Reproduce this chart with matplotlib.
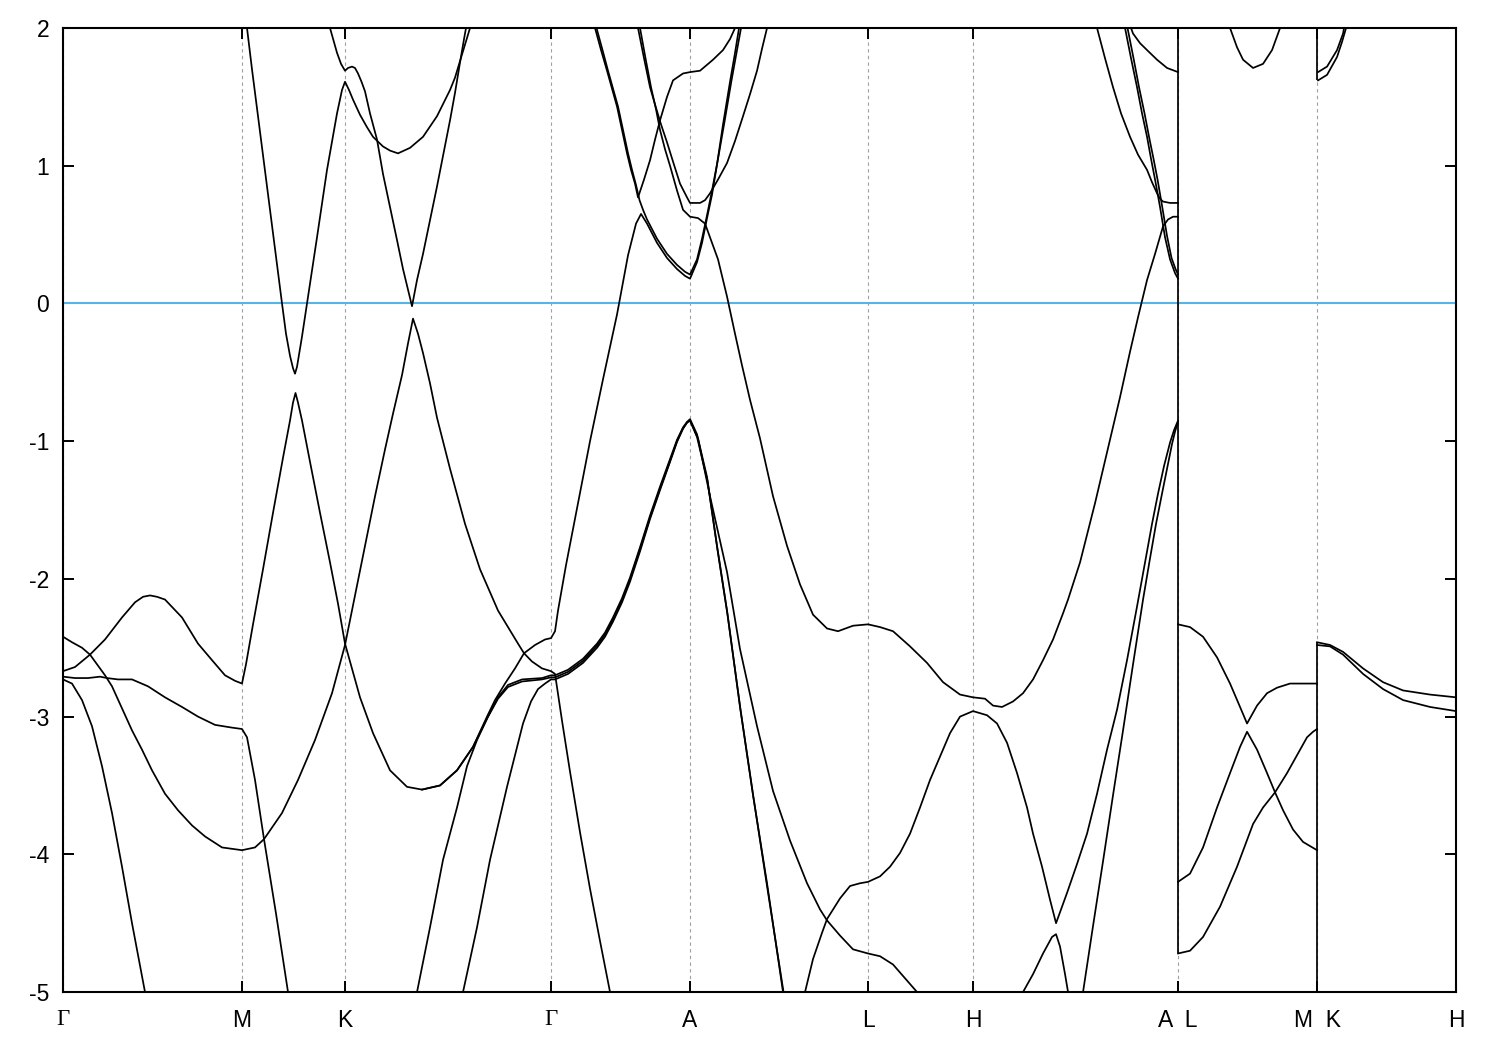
import matplotlib
matplotlib.use("Agg")
import matplotlib.pyplot as plt

plt.rcParams['font.family'] = ['Liberation Sans', 'DejaVu Sans']
plt.rcParams['axes.unicode_minus'] = False

# ---------------- data ----------------
tick_pos = [0.000, 0.179, 0.282, 0.488, 0.627, 0.805, 0.910, 1.115, 1.254, 1.393]
tick_lab = ["Γ", "M", "K", "Γ", "A", "L", "H", "A  L", "M  K", "H"]
e_ticks = [-5, -4, -3, -2, -1, 0, 1, 2]
e_fermi = 0.0

band_P = [(0.000,-2.67),(0.012,-2.64),(0.027,-2.55),(0.042,-2.44),(0.059,-2.28),(0.072,-2.17),(0.080,-2.13),
          (0.087,-2.12),(0.094,-2.13),
          (0.102,-2.15),(0.119,-2.28),(0.135,-2.47),(0.149,-2.59),(0.162,-2.70),(0.172,-2.74),(0.179,-2.76),
          (0.183,-2.62),(0.190,-2.33),(0.200,-1.93),(0.210,-1.52),(0.220,-1.12),(0.227,-0.85),(0.230,-0.72),
          (0.2325,-0.65),(0.235,-0.72),(0.239,-0.85),(0.247,-1.15),(0.257,-1.52),(0.267,-1.88),(0.275,-2.18),
          (0.282,-2.47),(0.297,-2.86),(0.310,-3.12),(0.327,-3.39),(0.344,-3.51),(0.359,-3.53),(0.377,-3.50),
          (0.394,-3.39),(0.410,-3.22),(0.424,-3.00),(0.432,-2.88),(0.442,-2.76),(0.452,-2.65),(0.461,-2.54),
          (0.472,-2.48),(0.482,-2.44),(0.488,-2.43),(0.492,-2.38),(0.495,-2.23),(0.503,-1.90),(0.515,-1.45),
          (0.527,-1.00),(0.540,-0.55),(0.554,-0.08),(0.565,0.35),(0.573,0.58),(0.578,0.65),(0.584,0.58),
          (0.594,0.44),(0.604,0.33),(0.614,0.25),(0.622,0.20),(0.627,0.18),(0.634,0.30),(0.639,0.44),
          (0.644,0.62),(0.649,0.79),(0.654,1.01),(0.660,1.30),(0.667,1.61),(0.672,1.82),(0.676,2.00)]

band_C0 = [(0.000,-2.42),(0.009,-2.46),(0.019,-2.50),(0.027,-2.55),(0.035,-2.63),(0.042,-2.70),(0.049,-2.78),
           (0.059,-2.94),(0.069,-3.10),(0.079,-3.24),(0.089,-3.39),(0.102,-3.56),(0.115,-3.68),(0.129,-3.79),
           (0.142,-3.87),(0.159,-3.95),(0.179,-3.97),(0.192,-3.95),(0.201,-3.89),(0.219,-3.70),(0.235,-3.46),
           (0.252,-3.17),(0.269,-2.83),(0.282,-2.48),(0.292,-2.12),(0.302,-1.76),(0.312,-1.40),(0.322,-1.06),
           (0.330,-0.80),(0.339,-0.52),(0.345,-0.29),(0.350,-0.11),(0.355,-0.22),(0.360,-0.36),(0.367,-0.58),
           (0.374,-0.83),(0.387,-1.20),(0.402,-1.60),(0.417,-1.93),(0.435,-2.23),(0.445,-2.35),(0.455,-2.47),
           (0.461,-2.54),(0.469,-2.60),(0.479,-2.65),(0.488,-2.67),(0.492,-2.69),(0.499,-3.03),(0.507,-3.40),
           (0.517,-3.84),(0.527,-4.25),(0.537,-4.63),(0.547,-5.00)]

band_D1 = [(0.000,-2.71),(0.012,-2.72),(0.025,-2.72),(0.037,-2.71),(0.044,-2.72),(0.055,-2.73),(0.069,-2.73),
           (0.085,-2.78),(0.102,-2.86),(0.119,-2.93),(0.135,-3.00),(0.152,-3.06),(0.169,-3.08),(0.179,-3.09),
           (0.184,-3.15),(0.192,-3.46),(0.201,-3.89),(0.213,-4.43),(0.225,-5.00)]

band_D2 = [(0.000,-2.73),(0.009,-2.76),(0.019,-2.88),(0.029,-3.07),(0.039,-3.36),(0.049,-3.70),(0.059,-4.09),
           (0.069,-4.50),(0.082,-5.00)]

band_X1 = [(0.184,2.00),(0.189,1.70),(0.195,1.36),(0.201,1.02),(0.207,0.68),(0.213,0.34),(0.219,0.00),
           (0.223,-0.22),(0.227,-0.38),(0.230,-0.47),(0.232,-0.51),(0.234,-0.46),(0.239,-0.24),(0.244,0.00),
           (0.254,0.48),(0.264,0.97),(0.274,1.38),(0.279,1.55),(0.282,1.61),(0.286,1.55),(0.290,1.48),
           (0.297,1.37),(0.304,1.28),(0.310,1.21),(0.320,1.14),(0.327,1.11),(0.335,1.09),(0.347,1.13),
           (0.360,1.21),(0.374,1.36),(0.387,1.55),(0.392,1.64),(0.397,1.76),(0.402,1.88),(0.407,2.00)]

band_W1 = [(0.267,2.00),(0.274,1.82),(0.278,1.74),(0.282,1.69),(0.285,1.71),(0.289,1.72),(0.292,1.71),
           (0.295,1.67),(0.2985,1.61),(0.302,1.54),(0.307,1.38),(0.314,1.19),(0.320,0.94),(0.327,0.70),
           (0.334,0.46),(0.340,0.25),(0.345,0.10),(0.349,-0.02),(0.354,0.17),(0.360,0.36),(0.374,0.85),
           (0.387,1.33),(0.392,1.53),(0.397,1.75),(0.401,1.92),(0.403,2.00)]

band_G1 = [(0.354,-5.00),(0.367,-4.53),(0.380,-4.04),(0.394,-3.66),(0.404,-3.36),(0.414,-3.17),(0.425,-3.00),
           (0.435,-2.86),(0.445,-2.77),(0.459,-2.73),(0.479,-2.72),(0.488,-2.70),(0.492,-2.70),(0.505,-2.66),
           (0.520,-2.58),(0.534,-2.47),(0.542,-2.39),(0.550,-2.28),(0.559,-2.14),(0.567,-1.99),(0.577,-1.77),
           (0.587,-1.54),(0.597,-1.33),(0.607,-1.13),(0.614,-0.99),(0.620,-0.90),(0.624,-0.86),(0.627,-0.84),
           (0.634,-0.95),(0.644,-1.26),(0.654,-1.76),(0.664,-2.23),(0.677,-2.93),(0.690,-3.57),(0.704,-4.21),
           (0.720,-5.00)]

band_P2 = [(0.359,-3.53),(0.377,-3.50),(0.394,-3.39),(0.410,-3.22),(0.425,-3.00),(0.435,-2.87),(0.445,-2.785),
           (0.459,-2.745),(0.479,-2.73),(0.488,-2.715),(0.492,-2.715),(0.505,-2.675),(0.520,-2.595),
           (0.534,-2.485),(0.542,-2.405),(0.550,-2.295),(0.559,-2.155),(0.567,-2.005),(0.577,-1.785),
           (0.587,-1.555),(0.597,-1.345),(0.607,-1.145),(0.614,-1.00),(0.620,-0.905),(0.624,-0.865),
           (0.627,-0.85),(0.634,-0.97),(0.6445,-1.29),(0.6545,-1.79),(0.6645,-2.26),(0.6775,-2.95),
           (0.6905,-3.59),(0.704,-4.23),(0.7205,-5.00)]

band_G2 = [(0.400,-5.00),(0.414,-4.53),(0.427,-4.04),(0.444,-3.51),(0.460,-3.05),(0.468,-2.89),(0.475,-2.80),
           (0.482,-2.76),(0.488,-2.73),(0.492,-2.73),(0.505,-2.69),(0.520,-2.61),(0.534,-2.50),(0.542,-2.42),
           (0.550,-2.31),(0.559,-2.17),(0.567,-2.02),(0.577,-1.80),(0.587,-1.565),(0.597,-1.355),(0.607,-1.15),
           (0.614,-1.005),(0.620,-0.91),(0.624,-0.865),(0.627,-0.85),(0.635,-0.98),(0.647,-1.40),(0.664,-1.95),
           (0.677,-2.51),(0.694,-3.07),(0.710,-3.54),(0.727,-3.90),(0.744,-4.21),(0.757,-4.40),(0.764,-4.48),
           (0.777,-4.59),(0.790,-4.69),(0.805,-4.72),(0.817,-4.74),(0.830,-4.80),(0.842,-4.90),(0.854,-5.00)]

band_Y1 = [(0.742,-5.00),(0.750,-4.76),(0.759,-4.57),(0.764,-4.47),(0.777,-4.32),(0.787,-4.23),(0.797,-4.21),
           (0.805,-4.20),(0.817,-4.16),(0.827,-4.09),(0.837,-3.99),(0.847,-3.85),(0.857,-3.66),(0.867,-3.46),
           (0.877,-3.29),(0.887,-3.12),(0.897,-3.00),(0.910,-2.96),(0.924,-2.99),(0.934,-3.05),(0.944,-3.19),
           (0.954,-3.41),(0.964,-3.66),(0.970,-3.85),(0.979,-4.09),(0.987,-4.33),(0.993,-4.50),(1.004,-4.28),
           (1.014,-4.07),(1.024,-3.85),(1.034,-3.56),(1.044,-3.24),(1.054,-2.95),(1.064,-2.59),(1.074,-2.20),
           (1.082,-1.88),(1.089,-1.60),(1.095,-1.38),(1.101,-1.18),(1.107,-1.01),(1.111,-0.92),(1.115,-0.85)]

band_Y2 = [(0.960,-5.00),(0.970,-4.87),(0.980,-4.72),(0.989,-4.60),(0.993,-4.58),(0.997,-4.67),(1.002,-4.87),
           (1.005,-5.00)]

band_H1 = [(1.020,-5.00),(1.030,-4.52),(1.040,-4.05),(1.050,-3.57),(1.060,-3.10),(1.070,-2.62),(1.080,-2.15),
           (1.087,-1.85),(1.093,-1.60),(1.099,-1.38),(1.104,-1.20),(1.109,-1.02),(1.112,-0.93),(1.115,-0.86)]

band_Q1 = [(0.5335,2.00),(0.5395,1.84),(0.545,1.69),(0.550,1.56),(0.555,1.43),(0.560,1.26),(0.565,1.09),
           (0.569,0.97),(0.573,0.86),(0.5765,0.75),(0.580,0.68),(0.584,0.61),(0.594,0.47),(0.604,0.36),
           (0.614,0.28),(0.622,0.23),(0.627,0.21),(0.634,0.32),(0.639,0.47),(0.644,0.64),(0.649,0.82),
           (0.6545,1.03),(0.6615,1.32),(0.6685,1.62),(0.674,1.84),(0.678,2.00)]

band_Q2 = [(0.532,2.00),(0.538,1.84),(0.544,1.69),(0.549,1.56),(0.554,1.43),(0.559,1.26),(0.564,1.09),
           (0.568,0.97),(0.572,0.87),(0.575,0.77),(0.581,0.90),(0.587,1.04),(0.592,1.19),(0.597,1.33),
           (0.604,1.50),(0.610,1.62),(0.620,1.67),(0.627,1.68),(0.637,1.69),(0.650,1.77),(0.660,1.84),
           (0.667,1.92),(0.672,2.00)]

band_R1 = [(0.575,2.00),(0.581,1.78),(0.587,1.57),(0.593,1.42),(0.598,1.30),(0.604,1.17),(0.610,1.03),
           (0.617,0.87),(0.624,0.77),(0.627,0.73),(0.637,0.73),(0.642,0.75),(0.647,0.80),(0.655,0.90),
           (0.664,1.02),(0.672,1.18),(0.680,1.36),(0.687,1.52),(0.694,1.69),(0.699,1.85),(0.704,2.00)]

band_R2 = [(0.577,2.00),(0.5825,1.78),(0.588,1.57),(0.593,1.41),(0.597,1.26),(0.602,1.12),(0.607,1.00),
           (0.614,0.82),(0.620,0.68),(0.627,0.63),(0.635,0.62),(0.642,0.58),(0.647,0.48),(0.655,0.32),
           (0.664,0.05),(0.672,-0.22),(0.679,-0.45),(0.687,-0.70),(0.697,-0.98),(0.710,-1.40),(0.724,-1.76),
           (0.737,-2.04),(0.750,-2.26),(0.764,-2.36),(0.775,-2.38),(0.790,-2.34),(0.805,-2.33),(0.817,-2.35),
           (0.830,-2.38),(0.847,-2.49),(0.864,-2.61),(0.880,-2.75),(0.897,-2.84),(0.910,-2.86),(0.922,-2.87),
           (0.930,-2.92),(0.939,-2.93),(0.950,-2.89),(0.960,-2.83),(0.970,-2.73),(0.980,-2.59),(0.990,-2.44),
           (1.000,-2.25),(1.005,-2.15),(1.017,-1.88),(1.032,-1.45),(1.045,-1.05),(1.057,-0.68),(1.067,-0.35),
           (1.075,-0.10),(1.084,0.17),(1.092,0.36),(1.100,0.56),(1.105,0.61),(1.110,0.63),(1.115,0.63)]

band_T1 = [(1.062,2.00),(1.068,1.78),(1.074,1.57),(1.079,1.38),(1.084,1.21),(1.088,1.05),(1.092,0.90),
           (1.097,0.70),(1.102,0.48),(1.107,0.32),(1.112,0.22),(1.115,0.18)]
band_T2 = [(1.0645,2.00),(1.0705,1.78),(1.076,1.57),(1.0815,1.38),(1.086,1.21),(1.0905,1.05),(1.0945,0.90),
           (1.099,0.71),(1.104,0.49),(1.1085,0.33),(1.1125,0.25),(1.115,0.21)]
band_T3 = [(1.068,2.00),(1.070,1.96),(1.077,1.89),(1.084,1.84),(1.094,1.77),(1.104,1.71),(1.115,1.68)]
band_T4 = [(1.034,2.00),(1.042,1.78),(1.050,1.57),(1.058,1.38),(1.067,1.21),(1.075,1.08),(1.084,0.97),
           (1.089,0.88),(1.094,0.80),(1.097,0.76),(1.100,0.74),(1.107,0.73),(1.115,0.73)]

# L-M panel
band_U1 = [(1.115,-2.33),(1.127,-2.35),(1.140,-2.42),(1.154,-2.57),(1.167,-2.76),(1.177,-2.93),(1.184,-3.05),
           (1.194,-2.92),(1.204,-2.83),(1.214,-2.79),(1.227,-2.76),(1.240,-2.76),(1.254,-2.76)]
band_U2 = [(1.115,-4.20),(1.127,-4.14),(1.140,-3.95),(1.154,-3.66),(1.167,-3.41),(1.177,-3.22),(1.184,-3.11),
           (1.194,-3.24),(1.204,-3.41),(1.212,-3.55),(1.220,-3.68),(1.230,-3.82),(1.240,-3.91),(1.254,-3.97)]
band_U3 = [(1.115,-4.72),(1.127,-4.70),(1.140,-4.60),(1.157,-4.38),(1.174,-4.09),(1.190,-3.78),(1.200,-3.66),
           (1.212,-3.55),(1.224,-3.41),(1.234,-3.28),(1.244,-3.15),(1.250,-3.11),(1.254,-3.09)]
band_U4 = [(1.167,2.00),(1.174,1.86),(1.180,1.77),(1.190,1.71),(1.200,1.74),(1.209,1.84),(1.217,2.00)]

# K-H panel
band_V1 = [(1.254,-2.46),(1.267,-2.48),(1.280,-2.53),(1.300,-2.65),(1.320,-2.75),(1.340,-2.81),(1.367,-2.84),
           (1.393,-2.86)]
band_V2 = [(1.254,-2.48),(1.267,-2.49),(1.280,-2.55),(1.300,-2.69),(1.320,-2.80),(1.340,-2.88),(1.367,-2.93),
           (1.393,-2.96)]
band_V3 = [(1.255,1.68),(1.264,1.72),(1.274,1.84),(1.280,1.96),(1.281,2.00)]
band_V4 = [(1.255,1.62),(1.264,1.66),(1.274,1.79),(1.279,1.90),(1.283,2.00)]

bands = [band_P, band_C0, band_D1, band_D2, band_X1, band_W1, band_G1, band_P2, band_G2, band_Y1,
         band_Y2, band_H1, band_Q1, band_Q2, band_R1, band_R2, band_T1, band_T2, band_T3, band_T4,
         band_U1, band_U2, band_U3, band_U4, band_V1, band_V2, band_V3, band_V4]

# discontinuities of the path (band jumps)
jump_k = [1.115, 1.254, 1.254]
jump_lo = [-4.72, -5.0, 1.62]
jump_hi = [2.0, -2.46, 2.0]

# ---------------- plot ----------------
fig = plt.figure(figsize=(15, 10.5), dpi=100)
ax = fig.add_axes([0.042, 0.0552, 0.9287, 0.9181])

for x in tick_pos:
    ax.axvline(x, color='#a0a0a0', lw=0.8, ls=(0, (3, 3)), zorder=1)

ax.axhline(e_fermi, color='#56b4e9', lw=1.5, zorder=2)

for b in bands:
    ks = [p[0] for p in b]
    es = [p[1] for p in b]
    ax.plot(ks, es, color='black', lw=1.25, zorder=3, solid_joinstyle='round')

ax.vlines(jump_k, jump_lo, jump_hi, color='black', lw=1.25, zorder=3)

ax.set_xlim(tick_pos[0], tick_pos[-1])
ax.set_ylim(-5, 2)

ax.set_xticks(tick_pos)
ax.set_xticklabels(tick_lab)
for lab in ax.get_xticklabels():
    if lab.get_text() == "Γ":
        lab.set_family(['Liberation Serif', 'DejaVu Serif'])
        lab.set_fontsize(19)
ax.set_yticks(e_ticks)
ax.set_yticklabels([str(v) for v in e_ticks])

ax.tick_params(axis='both', direction='in', length=8, width=1.4, labelsize=16.5,
               top=True, right=True)
ax.tick_params(axis='x', pad=12)
ax.tick_params(axis='y', pad=10)
for s in ax.spines.values():
    s.set_linewidth(1.5)

fig.savefig("out.png", dpi=100)
